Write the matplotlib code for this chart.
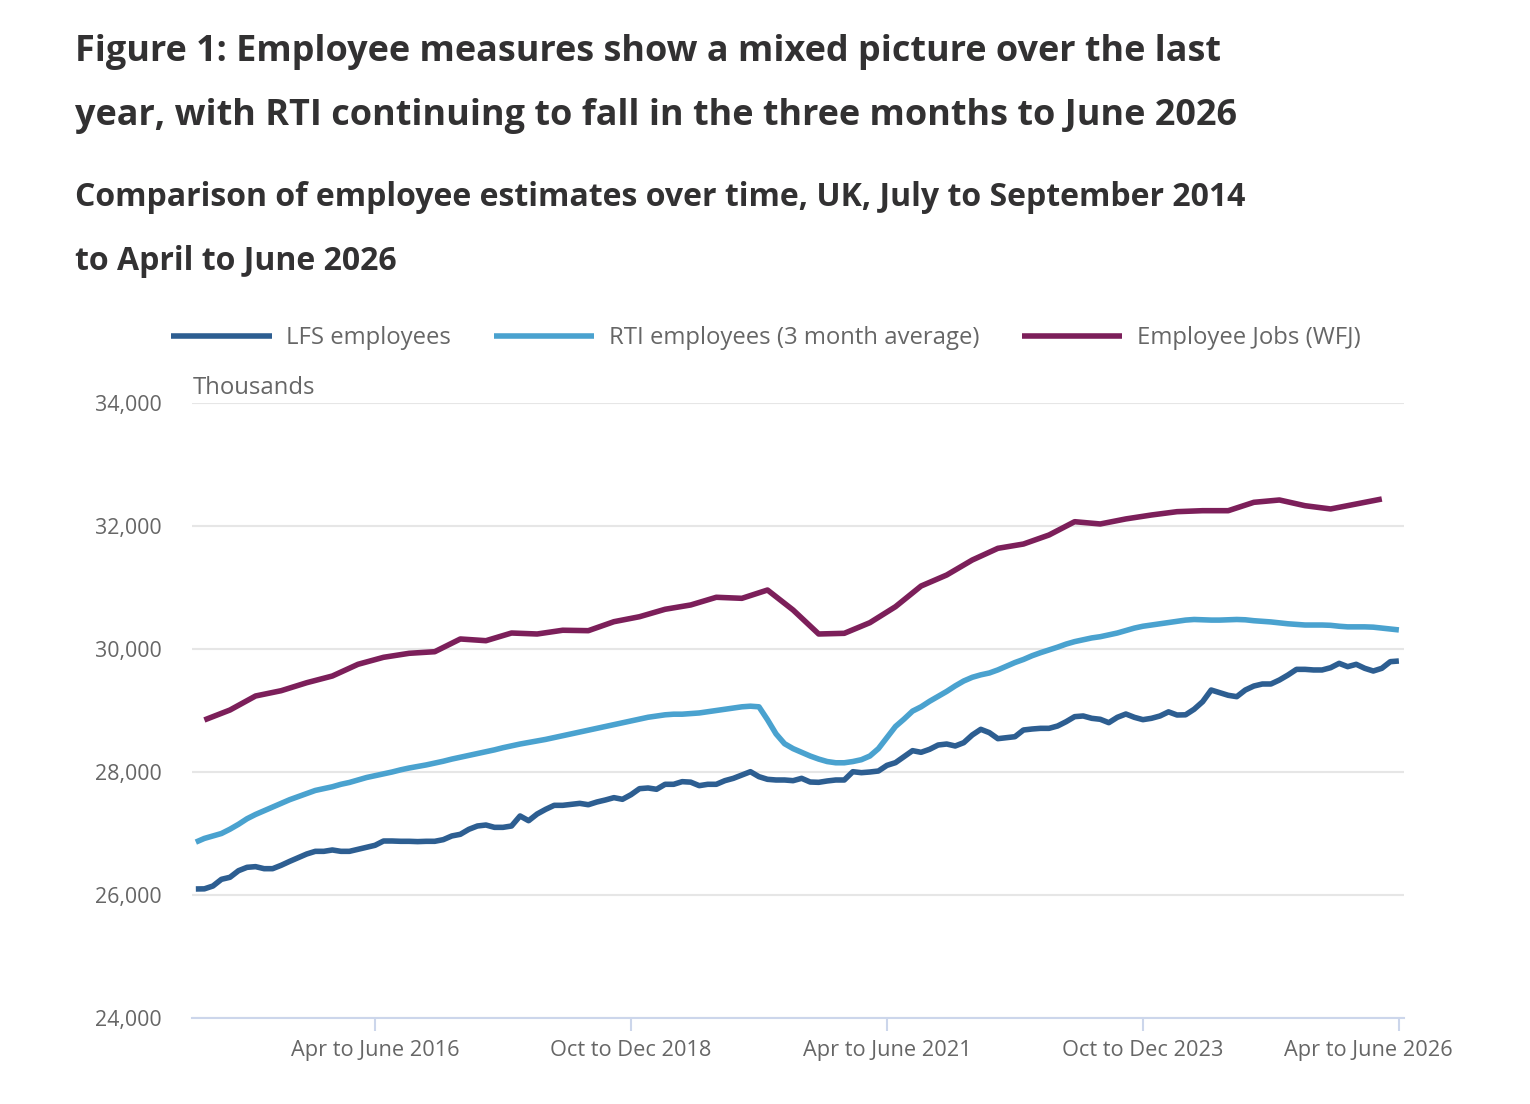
import numpy as np
import matplotlib.pyplot as plt
import matplotlib.transforms as mtransforms
from matplotlib.ticker import FuncFormatter

plt.rcParams['font.family'] = ['Open Sans', 'DejaVu Sans']

# Rolling three-month periods, Jul-Sep 2014 (index 0) to Apr-Jun 2026 (index 141)
tick_idx = [21, 51, 81, 111, 141]
tick_labels = ["Apr to June 2016", "Oct to Dec 2018", "Apr to June 2021",
               "Oct to Dec 2023", "Apr to June 2026"]

lfs = [26098, 26100, 26146, 26255, 26288, 26395, 26450, 26461, 26428, 26428,
       26483, 26547, 26607, 26667, 26710, 26710, 26732, 26710, 26710, 26743,
       26776, 26808, 26878, 26878, 26873, 26873, 26868, 26873, 26873, 26900,
       26960, 26987, 27068, 27122, 27138, 27100, 27100, 27122, 27285, 27208,
       27317, 27393, 27458, 27458, 27474, 27490, 27468, 27512, 27545, 27583,
       27556, 27631, 27729, 27740, 27719, 27800, 27800, 27843, 27835, 27778,
       27800, 27800, 27859, 27897, 27951, 28005, 27924, 27881, 27870, 27870,
       27859, 27897, 27837, 27832, 27854, 27870, 27870, 28005, 27989, 28000,
       28016, 28108, 28152, 28249, 28347, 28320, 28369, 28439, 28455, 28423,
       28477, 28602, 28694, 28640, 28542, 28558, 28574, 28683, 28699, 28710,
       28710, 28748, 28818, 28900, 28911, 28873, 28857, 28802, 28889, 28943,
       28889, 28851, 28873, 28911, 28978, 28927, 28930, 29020, 29143, 29333,
       29290, 29247, 29225, 29333, 29398, 29431, 29431, 29496, 29577, 29669,
       29669, 29659, 29659, 29696, 29767, 29713, 29751, 29686, 29642, 29686,
       29794, 29805]

rti = [26860, 26920, 26960, 27000, 27070, 27150, 27240, 27310, 27370, 27430,
       27490, 27550, 27600, 27650, 27700, 27730, 27760, 27800, 27830, 27870,
       27910, 27940, 27970, 28000, 28035, 28065, 28090, 28115, 28145, 28175,
       28210, 28240, 28270, 28300, 28330, 28360, 28395, 28425, 28455, 28480,
       28505, 28530, 28560, 28590, 28620, 28650, 28680, 28710, 28740, 28770,
       28800, 28830, 28860, 28890, 28910, 28930, 28940, 28940, 28950, 28960,
       28980, 29000, 29020, 29040, 29060, 29070, 29060, 28850, 28620, 28460,
       28380, 28320, 28260, 28210, 28170, 28150, 28150, 28170, 28200, 28260,
       28380, 28560, 28740, 28860, 28990, 29060, 29150, 29230, 29310, 29400,
       29480, 29540, 29580, 29610, 29660, 29720, 29780, 29830, 29890, 29940,
       29985, 30030, 30080, 30120, 30150, 30180, 30200, 30230, 30260, 30300,
       30340, 30370, 30390, 30410, 30430, 30450, 30470, 30480, 30475, 30470,
       30470, 30475, 30480, 30475, 30460, 30450, 30440, 30425, 30410, 30400,
       30390, 30390, 30390, 30385, 30370, 30360, 30360, 30360, 30355, 30340,
       30325, 30310]

# Workforce jobs, quarterly
wfj_idx = list(range(1, 142, 3))
wfj = [28846, 29008, 29236, 29322, 29452, 29561, 29751, 29865, 29930, 29956,
       30163, 30135, 30260, 30244, 30305, 30298, 30444, 30525, 30646, 30716,
       30841, 30824, 30959, 30634, 30244, 30255, 30428, 30688, 31024, 31203,
       31447, 31637, 31707, 31854, 32070, 32033, 32115, 32179, 32233, 32249,
       32249, 32385, 32423, 32330, 32277, 32358, 32439]

series_names = ["LFS employees", "RTI employees (3 month average)", "Employee Jobs (WFJ)"]
colors = ["#2d5e91", "#4aa2cf", "#7c1f5a"]
grey = "#666666"

fig = plt.figure(figsize=(15.3, 11.04), dpi=100, facecolor="white")
ax = fig.add_axes([192 / 1530, 1 - 1018 / 1104, (1404 - 192) / 1530, (1018 - 403) / 1104])

x = np.arange(len(lfs))
lw = 4.0
ax.plot(x, lfs, color=colors[0], lw=lw, solid_capstyle="butt", label=series_names[0], zorder=3)
ax.plot(x, rti, color=colors[1], lw=lw, solid_capstyle="butt", label=series_names[1], zorder=3)
ax.plot(wfj_idx, wfj, color=colors[2], lw=lw, solid_capstyle="butt", label=series_names[2], zorder=3)

ax.set_xlim(-0.45, 141.6)
ax.set_ylim(24000, 34000)
ax.set_yticks(range(24000, 34001, 2000))
ax.yaxis.set_major_formatter(FuncFormatter(lambda v, p: f"{int(v):,}"))
ax.set_xticks(tick_idx)
ax.set_xticklabels(tick_labels)

ax.grid(axis="y", color="#e6e6e6", lw=1.5)
ax.set_axisbelow(True)
for s in ["top", "right", "left"]:
    ax.spines[s].set_visible(False)
ax.spines["bottom"].set_color("#ccd6eb")
ax.spines["bottom"].set_linewidth(1.5)
ax.spines["bottom"].set_zorder(2)
ax.tick_params(axis="y", length=0, pad=22, labelsize=15.4, labelcolor=grey)
ax.tick_params(axis="x", length=9, width=1.5, color="#ccd6eb", pad=7, labelsize=15.7, labelcolor=grey)

# keep the last date label inside the chart area, as in the original
last = ax.get_xticklabels()[-1]
last.set_transform(last.get_transform() + mtransforms.ScaledTranslation(-0.31, 0, fig.dpi_scale_trans))

ax.text(1 / 1212, 1 + 15 / 615, "Thousands", transform=ax.transAxes, fontsize=17.2,
        color=grey, va="center", ha="left")

fig.legend(loc="center", bbox_to_anchor=(766 / 1530, 1 - 338 / 1104), ncol=3, frameon=False,
           fontsize=17.2, labelcolor=grey, handlelength=4.2, handletextpad=0.6, columnspacing=1.8)

title_color = "#323132"
fig.text(75 / 1530, 1 - 52 / 1104, "Figure 1: Employee measures show a mixed picture over the last",
         fontsize=25.9, fontweight="bold", color=title_color, va="center")
fig.text(75 / 1530, 1 - 116 / 1104, "year, with RTI continuing to fall in the three months to June 2026",
         fontsize=25.9, fontweight="bold", color=title_color, va="center")
fig.text(75 / 1530, 1 - 197 / 1104, "Comparison of employee estimates over time, UK, July to September 2014",
         fontsize=23, fontweight="bold", color=title_color, va="center")
fig.text(75 / 1530, 1 - 261 / 1104, "to April to June 2026",
         fontsize=23, fontweight="bold", color=title_color, va="center")

fig.savefig("out.png", dpi=100, facecolor="white")
